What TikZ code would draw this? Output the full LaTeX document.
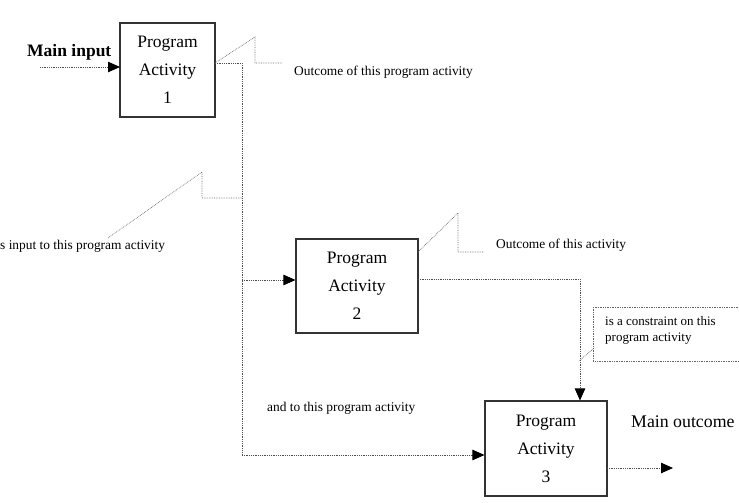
\documentclass[tikz,border=0pt]{standalone}
\usepackage{fontspec}
\setmainfont{Liberation Serif}
\usetikzlibrary{arrows.meta}
\begin{document}
\begin{tikzpicture}[x=1pt,y=-1pt,
  pbox/.style={draw=black!80, line width=1.1pt, align=center, inner sep=0pt,
    font=\fontsize{17.5}{28}\selectfont},
  flow/.style={draw=black!70, line width=0.8pt, densely dotted},
  callout/.style={draw=black!60, line width=0.7pt, densely dotted},
  tip/.style={-{Triangle[length=12pt,width=10.5pt,black,fill=black]}},
  small/.style={inner sep=0pt, anchor=west, font=\fontsize{13.4}{16}\selectfont, align=left},
  big/.style={inner sep=0pt, anchor=west, font=\fontsize{17.8}{21}\selectfont}]
\useasboundingbox (0,0) rectangle (739,503);
% boxes
\node[pbox, minimum width=95pt, minimum height=94pt] (b1) at (167.5,70) {Program\\Activity\\1};
\node[pbox, minimum width=122pt, minimum height=94pt] (b2) at (357,286) {Program\\Activity\\2};
\node[pbox, minimum width=122pt, minimum height=95pt] (b3) at (546,448.5) {Program\\Activity\\3};
% texts
\node[big, font=\fontsize{17.5}{21}\selectfont\bfseries] (mainin) at (27,52) {Main input};
\node[big] (mainout) at (631,422) {Main outcome};
\node[small] (t1) at (294,72) {Outcome of this program activity};
\node[small] (t2) at (0,246) {s input to this program activity};
\node[small] (t3) at (496,245) {Outcome of this activity};
\node[small] (t4) at (267,408) {and to this program activity};
\node[small, font=\fontsize{13}{16}\selectfont] (t5) at (605,330) {is a constraint on this\\program activity};
% coordinates
\coordinate (mi) at (40,67);
\coordinate (b1in) at (120,67);
\coordinate (b1out) at (215,63);
\coordinate (j1) at (242,63);
\coordinate (j2) at (242,280);
\coordinate (j3) at (242,455);
\coordinate (b2out) at (418,279);
\coordinate (k1) at (580,279);
\coordinate (b3out) at (607,468);
\coordinate (mo) at (673,468);
% connectors
\draw[flow, tip] (mi) -- (b1in);
\draw[flow] (b1out) -- (j1) -- (j3);
\draw[flow, tip] (j3) -- (b3.west |- j3);
\draw[flow, tip] (j2) -- (b2.west |- j2);
\draw[flow, tip] (b2out) -- (k1) -- (k1 |- b3.north);
\draw[flow, tip] (b3out) -- (mo);
% callouts
\coordinate (c1a) at (255,37); \coordinate (c1b) at (255,63); \coordinate (c1c) at (282,63);
\draw[callout] (b1out) -- (c1a) -- (c1b) -- (c1c);
\coordinate (c2s) at (108,238); \coordinate (c2a) at (202,172); \coordinate (c2b) at (202,198); \coordinate (c2c) at (242,198);
\draw[callout] (c2s) -- (c2a) -- (c2b) -- (c2c);
\coordinate (c3s) at (418,252); \coordinate (c3a) at (458,213); \coordinate (c3b) at (458,252); \coordinate (c3c) at (484,252);
\draw[callout] (c3s) -- (c3a) -- (c3b) -- (c3c);
\coordinate (cb1) at (593,307); \coordinate (cb2) at (745,361);
\draw[callout] (cb1) rectangle (cb2);
\coordinate (cbl) at (593,349); \coordinate (cbe) at (579,361);
\draw[callout] (cbl) -- (cbe);
\end{tikzpicture}
\end{document}
